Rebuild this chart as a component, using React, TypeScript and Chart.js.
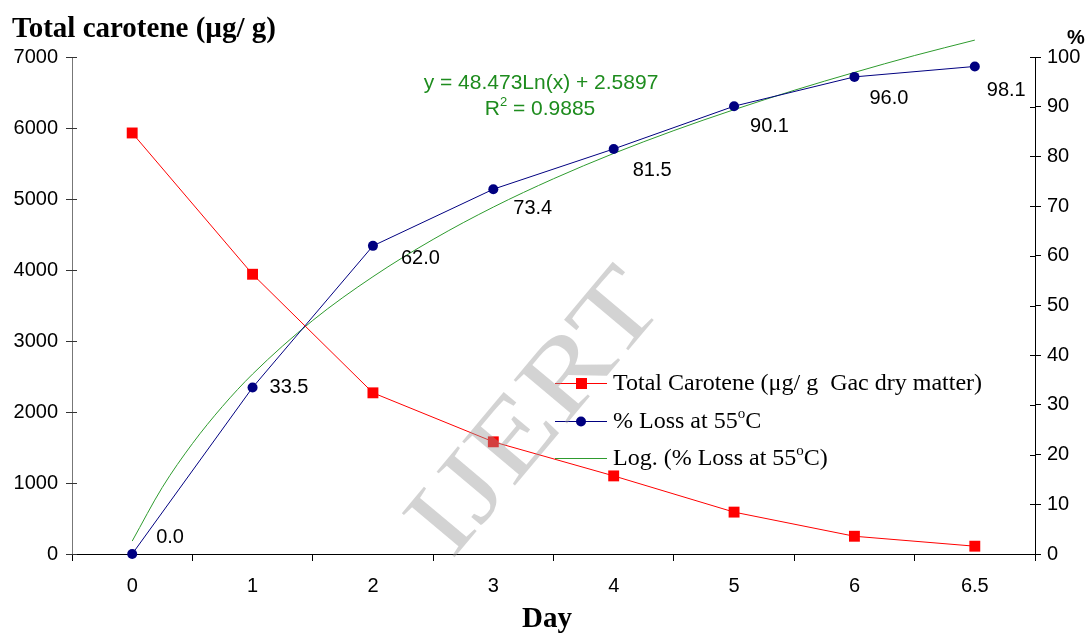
import React, { useEffect, useRef } from 'react';
import { Chart, registerables } from 'chart.js';
Chart.register(...registerables);

const DAYS = ['0', '1', '2', '3', '4', '5', '6', '6.5'];
const CAROTENE = [5930, 3940, 2270, 1580, 1100, 590, 250, 110];
const LOSS = [0, 33.5, 62.0, 73.4, 81.5, 90.1, 96.0, 98.1];
const LOSS_LABELS = ['0.0', '33.5', '62.0', '73.4', '81.5', '90.1', '96.0', '98.1'];
const TREND_X = [0, 0.25, 0.5, 0.75, 1, 1.5, 2, 2.5, 3, 3.5, 4, 4.5, 5, 5.5, 6, 6.5, 7];
const TREND_Y = [2.6, 13.4, 22.2, 29.7, 36.2, 47.0, 55.8, 63.3, 69.8, 75.5, 80.6, 85.2, 89.4, 93.3, 96.9, 100.3, 103.4];

const LABEL_DX = [24, 17, 28, 20, 19, 16, 15, 12];
const LABEL_DY = [-17, 0, 13, 19, 22, 20, 22, 24];

const RED = '#FF0000';
const NAVY = '#000080';
const GREEN = '#2E9B2E';
const SANS = "'Liberation Sans', Arial, sans-serif";
const SERIF = "'Liberation Serif', 'Times New Roman', serif";

type Part = { t: string; sup?: boolean };

function drawRich(ctx: CanvasRenderingContext2D, parts: Part[], x: number, y: number, size: number, family: string, align: 'left' | 'center', weight = '') {
  const font = `${weight} ${size}px ${family}`;
  const supFont = `${weight} ${Math.round(size * 0.62)}px ${family}`;
  let total = 0;
  for (const p of parts) {
    ctx.font = p.sup ? supFont : font;
    total += ctx.measureText(p.t).width;
  }
  let cx = align === 'center' ? x - total / 2 : x;
  ctx.textAlign = 'left';
  ctx.textBaseline = 'middle';
  for (const p of parts) {
    ctx.font = p.sup ? supFont : font;
    ctx.fillText(p.t, cx, p.sup ? y - size * 0.32 : y);
    cx += ctx.measureText(p.t).width;
  }
}

const overlayPlugin = {
  id: 'overlay',
  afterDatasetsDraw(chart: any) {
    const ctx: CanvasRenderingContext2D = chart.ctx;
    const meta = chart.getDatasetMeta(1);
    ctx.save();
    ctx.fillStyle = '#000';
    ctx.font = `20px ${SANS}`;
    ctx.textAlign = 'left';
    ctx.textBaseline = 'middle';
    meta.data.forEach((pt: any, i: number) => {
      ctx.fillText(LOSS_LABELS[i], pt.x + LABEL_DX[i], pt.y + LABEL_DY[i]);
    });
    ctx.restore();
  },
  afterDraw(chart: any) {
    const ctx: CanvasRenderingContext2D = chart.ctx;
    ctx.save();
    // inner tick halves on both value axes
    const area = chart.chartArea;
    ctx.lineWidth = 1;
    ctx.strokeStyle = '#333';
    chart.scales.y.ticks.forEach((t: any) => {
      const py = Math.round(chart.scales.y.getPixelForValue(t.value)) + 0.5;
      ctx.beginPath(); ctx.moveTo(area.left, py); ctx.lineTo(area.left + 5, py); ctx.stroke();
    });
    ctx.strokeStyle = '#000';
    chart.scales.y1.ticks.forEach((t: any) => {
      const py = Math.round(chart.scales.y1.getPixelForValue(t.value)) + 0.5;
      ctx.beginPath(); ctx.moveTo(area.right - 5, py); ctx.lineTo(area.right, py); ctx.stroke();
    });

    // titles
    ctx.fillStyle = '#000';
    ctx.textAlign = 'left';
    ctx.textBaseline = 'middle';
    ctx.font = `bold 29px ${SERIF}`;
    ctx.fillText('Total carotene (µg/ g)', 12, 30);
    ctx.font = `bold 20px ${SANS}`;
    ctx.fillText('%', 1067, 38);
    ctx.textAlign = 'center';
    ctx.font = `bold 29px ${SERIF}`;
    ctx.fillText('Day', 547, 620);

    // equation
    ctx.fillStyle = '#1E8C1E';
    drawRich(ctx, [{ t: 'y = 48.473Ln(x) + 2.5897' }], 541, 83, 21, SANS, 'center');
    drawRich(ctx, [{ t: 'R' }, { t: '2', sup: true }, { t: ' = 0.9885' }], 540, 109, 21, SANS, 'center');

    // legend
    const lx0 = 555, lx1 = 607, mx = 581, tx = 613;
    const rows = [383, 421, 458];
    ctx.lineWidth = 1;
    ctx.strokeStyle = RED;
    ctx.beginPath(); ctx.moveTo(lx0, rows[0] + 0.5); ctx.lineTo(lx1, rows[0] + 0.5); ctx.stroke();
    ctx.fillStyle = RED;
    ctx.fillRect(mx - 5, rows[0] - 5, 11, 11);
    ctx.strokeStyle = NAVY;
    ctx.beginPath(); ctx.moveTo(lx0, rows[1] + 0.5); ctx.lineTo(lx1, rows[1] + 0.5); ctx.stroke();
    ctx.fillStyle = NAVY;
    ctx.beginPath(); ctx.arc(mx, rows[1] + 0.5, 5, 0, Math.PI * 2); ctx.fill();
    ctx.strokeStyle = GREEN;
    ctx.beginPath(); ctx.moveTo(lx0, rows[2] + 0.5); ctx.lineTo(lx1, rows[2] + 0.5); ctx.stroke();

    ctx.fillStyle = '#000';
    drawRich(ctx, [{ t: 'Total Carotene (μg/ g  Gac dry matter)' }], tx, rows[0] + 1, 24, SERIF, 'left');
    drawRich(ctx, [{ t: '% Loss at 55' }, { t: 'o', sup: true }, { t: 'C' }], tx, rows[1] + 1, 24, SERIF, 'left');
    drawRich(ctx, [{ t: 'Log. (% Loss at 55' }, { t: 'o', sup: true }, { t: 'C)' }], tx, rows[2] + 1, 24, SERIF, 'left');

    // watermark
    ctx.translate(538, 415);
    ctx.rotate(-50 * Math.PI / 180);
    ctx.font = `100px ${SERIF}`;
    const w = ctx.measureText('IJERT').width;
    ctx.scale(335 / w, 1.05);
    ctx.fillStyle = 'rgba(150,150,150,0.42)';
    ctx.textAlign = 'center';
    ctx.textBaseline = 'middle';
    ctx.fillText('IJERT', 0, 0);
    ctx.restore();
  },
};

export default function App() {
  const ref = useRef<HTMLCanvasElement | null>(null);
  useEffect(() => {
    document.body.style.margin = '0';
    if (!ref.current) return;
    const chart = new Chart(ref.current, {
      type: 'line',
      data: {
        labels: DAYS,
        datasets: [
          {
            label: 'Total Carotene (μg/ g  Gac dry matter)',
            data: CAROTENE,
            yAxisID: 'y',
            xAxisID: 'x',
            borderColor: RED,
            backgroundColor: RED,
            borderWidth: 1,
            pointStyle: 'rect',
            pointRadius: 7.7,
            pointBorderWidth: 0,
            tension: 0,
            clip: false,
          } as any,
          {
            label: '% Loss at 55oC',
            data: LOSS,
            yAxisID: 'y1',
            xAxisID: 'x',
            borderColor: NAVY,
            backgroundColor: NAVY,
            borderWidth: 1,
            pointStyle: 'circle',
            pointRadius: 5,
            pointBorderWidth: 0,
            tension: 0,
            clip: false,
          } as any,
          {
            label: 'Log. (% Loss at 55oC)',
            data: TREND_X.map((x, i) => ({ x, y: TREND_Y[i] })),
            yAxisID: 'y1',
            xAxisID: 'x2',
            borderColor: GREEN,
            borderWidth: 1,
            pointRadius: 0,
            cubicInterpolationMode: 'monotone',
            clip: false,
          } as any,
        ],
      },
      options: {
        animation: false,
        responsive: false,
        layout: { padding: { top: 57, left: 0, right: 0, bottom: 0 } },
        plugins: { legend: { display: false }, tooltip: { enabled: false } },
        scales: {
          x: {
            type: 'category',
            position: 'bottom',
            offset: true,
            grid: { offset: true, drawOnChartArea: false, tickLength: 7, color: '#000' },
            border: { color: '#000', width: 1 },
            ticks: { color: '#000', font: { size: 20, family: SANS }, padding: 13, maxRotation: 0 },
            afterFit: (s: any) => { s.height = 81; },
          },
          x2: {
            type: 'linear',
            display: false,
            min: -0.5,
            max: 7.5,
          },
          y: {
            position: 'left',
            min: 0,
            max: 7000,
            ticks: {
              stepSize: 1000,
              color: '#000',
              font: { size: 20, family: SANS },
              padding: 8,
              callback: (v: any) => String(v),
            },
            grid: { drawOnChartArea: false, tickLength: 6, color: '#333' },
            border: { color: '#777', width: 1 },
            afterFit: (s: any) => { s.width = 72; },
          },
          y1: {
            position: 'right',
            min: 0,
            max: 100,
            ticks: { stepSize: 10, color: '#000', font: { size: 20, family: SANS }, padding: 6 },
            grid: { drawOnChartArea: false, tickLength: 6, color: '#000' },
            border: { color: '#000', width: 1 },
            afterFit: (s: any) => { s.width = 57; },
          },
        },
      } as any,
      plugins: [overlayPlugin],
    });
    return () => chart.destroy();
  }, []);
  return <canvas ref={ref} width={1092} height={635} style={{ display: 'block', width: 1092, height: 635 }} />;
}
